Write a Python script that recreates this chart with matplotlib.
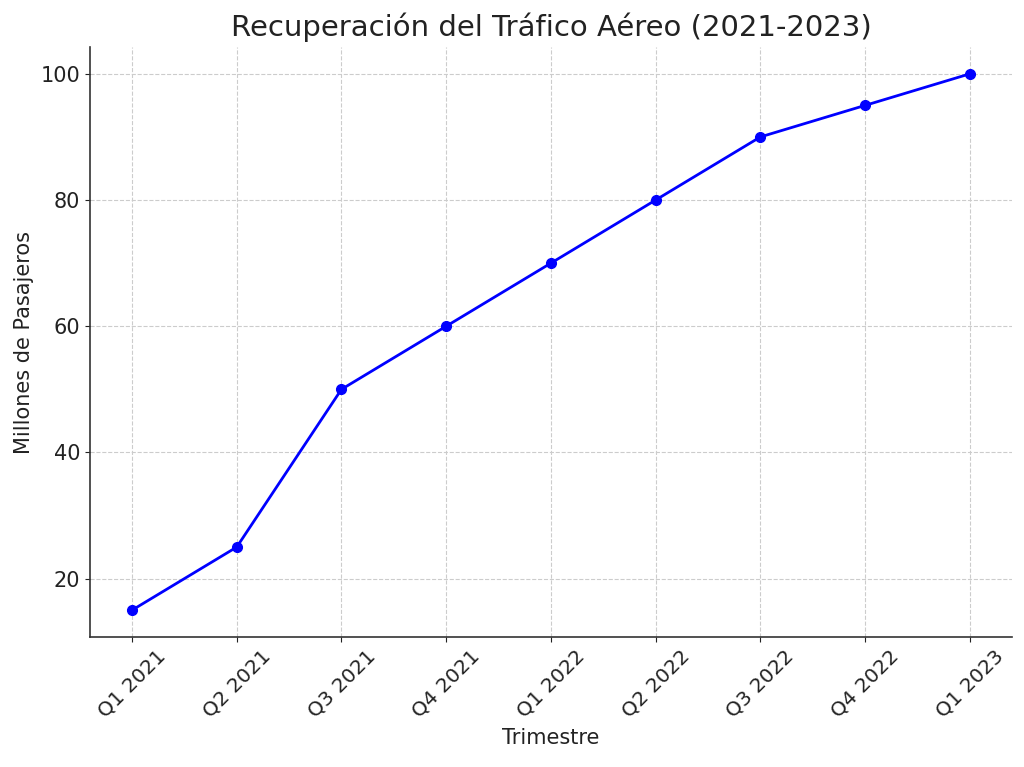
import matplotlib
matplotlib.use("Agg")
import matplotlib.pyplot as plt

trimestres = ["Q1 2021", "Q2 2021", "Q3 2021", "Q4 2021", "Q1 2022",
              "Q2 2022", "Q3 2022", "Q4 2022", "Q1 2023"]
pasajeros = [15, 25, 50, 60, 70, 80, 90, 95, 100]

fig = plt.figure(figsize=(10.24, 7.67), dpi=100)
ax = fig.add_axes([0.088, 0.1695, 0.9, 0.7692])

ax.plot(trimestres, pasajeros, marker="o", color="blue", linewidth=2, markersize=7)

ax.set_title("Recuperación del Tráfico Aéreo (2021-2023)", fontsize=21, color="#222222", pad=8)
ax.set_xlabel("Trimestre", fontsize=15, color="#222222", labelpad=5)
ax.set_ylabel("Millones de Pasajeros", fontsize=15, color="#222222", labelpad=5)
ax.tick_params(axis="y", labelsize=15, colors="#222222")
ax.tick_params(axis="x", labelsize=14.5, colors="#222222")
plt.setp(ax.get_xticklabels(), rotation=45)

ax.grid(True, linestyle="--", color="#cccccc", linewidth=0.8)
ax.spines["top"].set_visible(False)
ax.spines["right"].set_visible(False)
for side in ("left", "bottom"):
    ax.spines[side].set_color("#333333")
    ax.spines[side].set_linewidth(1.2)

fig.savefig("out.png", dpi=100)
